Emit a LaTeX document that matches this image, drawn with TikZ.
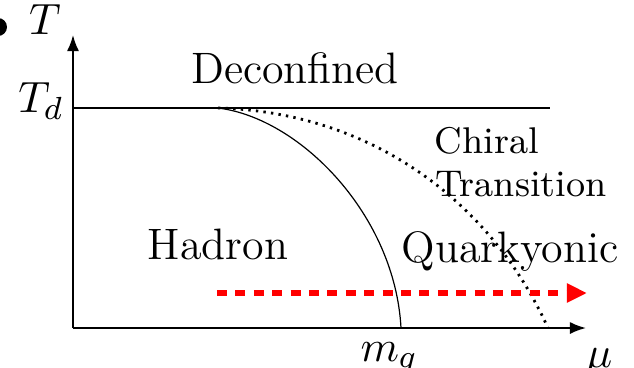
\documentclass[tikz,border=0pt]{standalone}
\usetikzlibrary{arrows.meta}
\begin{document}
\begin{tikzpicture}[x=0.25pt,y=-0.25pt,
  lbl/.style={font=\fontsize{11}{13}\selectfont, inner sep=0pt},
  small/.style={font=\fontsize{9.3}{11}\selectfont, inner sep=0pt},
  axis/.style={line width=0.45pt, -{Latex[length=4pt,width=3pt]}},
  phase/.style={line width=0.3pt},
  chiral/.style={line width=0.7pt, dash pattern=on 0.6pt off 1.3pt},
  path/.style={draw=red, line width=1.5pt, dash pattern=on 2.5pt off 2.1pt, -{Triangle[length=5pt,width=4.5pt]}}]
\useasboundingbox (0,0) rectangle (634,367);
\fill (-2,27) circle[radius=9*0.25pt];
\coordinate (O) at (73,328);
\coordinate (Ytip) at (73,35);
\coordinate (Xtip) at (586,328);
\coordinate (TdL) at (73,108);
\coordinate (TdR) at (550,108);
\coordinate (C) at (218,108);
\coordinate (M) at (401,328);
\coordinate (D) at (548,328);
\coordinate (Ps) at (217,293);
\coordinate (Pe) at (587,293);
\draw[axis] (O) -- (Ytip);
\draw[axis] (O) -- (Xtip);
\draw[phase] (TdL) -- (TdR);
\draw[phase] (C) .. controls (300,118) and (395,215) .. (M);
\draw[chiral] (C) .. controls (370,112) and (490,200) .. (D);
\draw[path] (Ps) -- (Pe);
\node[lbl] (T) at (45,20) {$T$};
\node[lbl] (Td) at (41,101) {$T_d$};
\node[lbl] (dec) at (295,68) {Deconfined};
\node[small] (chi) at (487,141) {Chiral};
\node[small] (tra) at (521,184) {Transition};
\node[lbl] (had) at (218,244) {Hadron};
\node[lbl] (qky) at (510,251) {Quarkyonic};
\node[lbl] (mq) at (389,358) {$m_q$};
\node[lbl] (mu) at (599,362) {$\mu$};
\end{tikzpicture}
\end{document}
